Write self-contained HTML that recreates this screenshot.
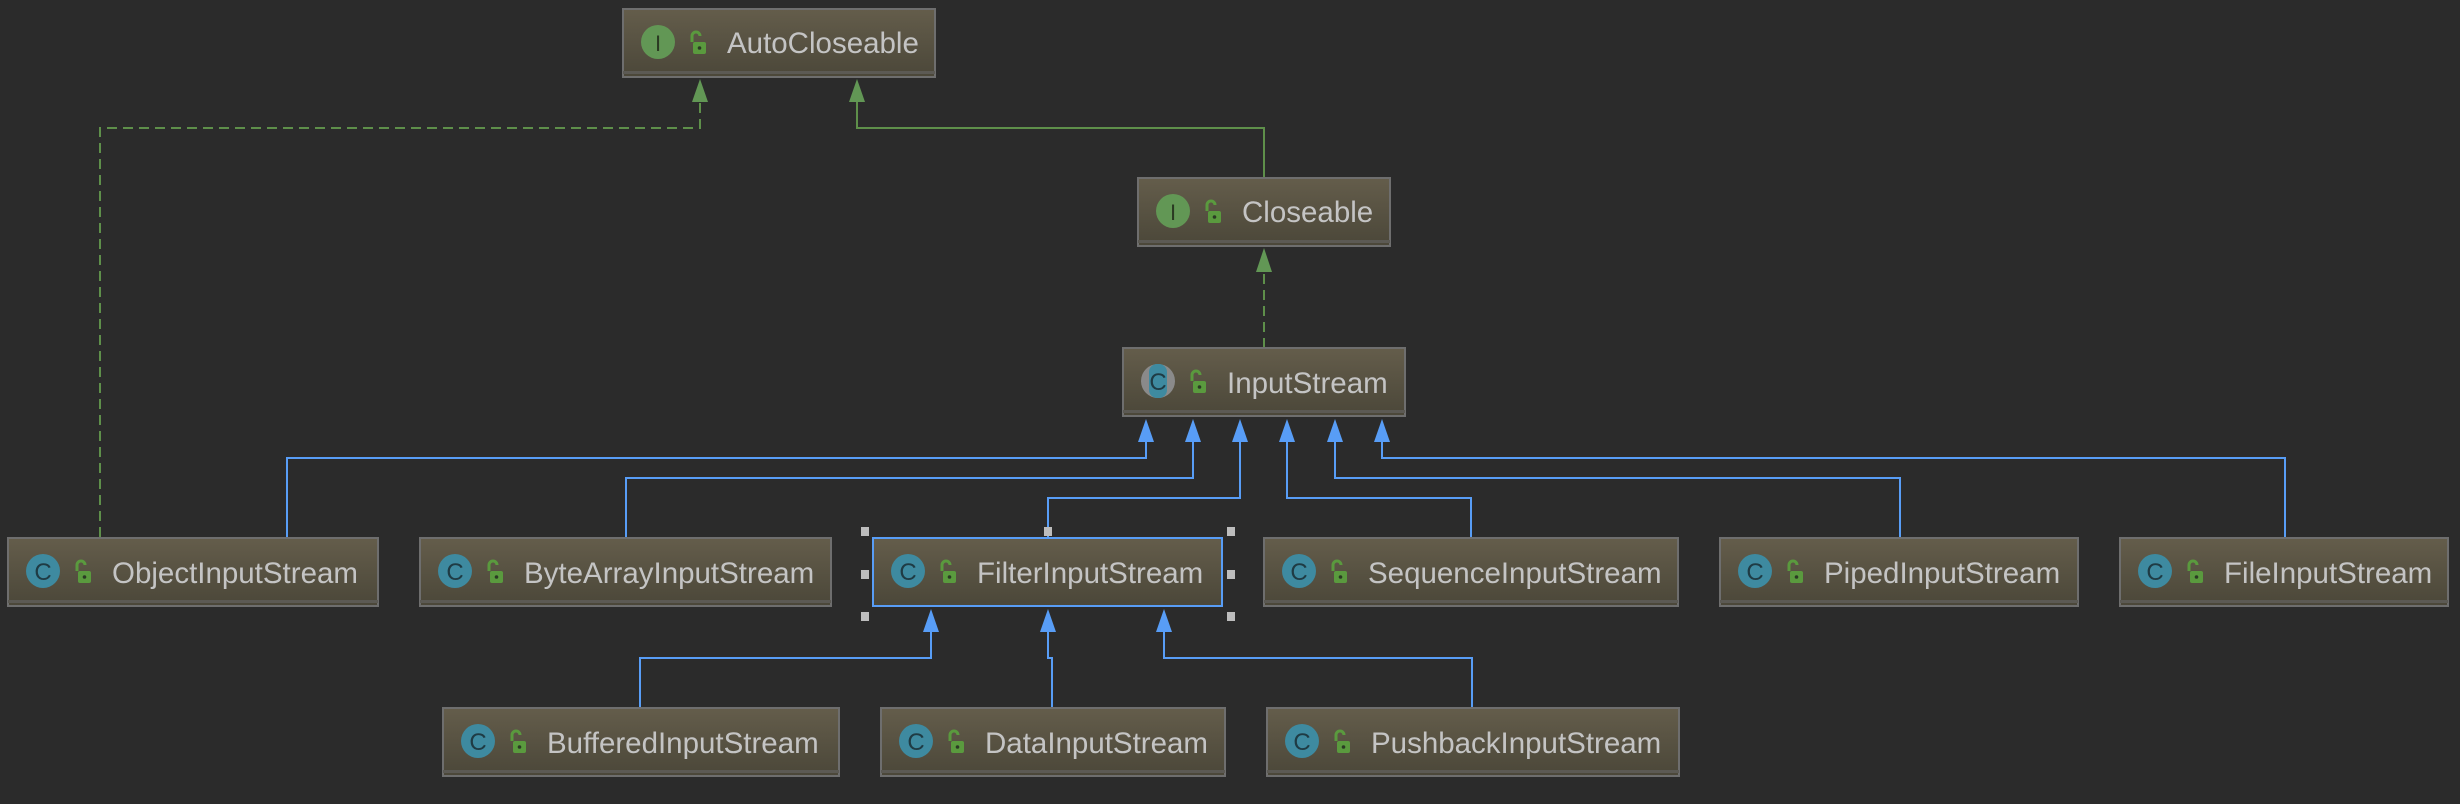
<!DOCTYPE html>
<html><head><meta charset="utf-8"><style>
html,body{margin:0;padding:0;background:#2b2b2b;width:2460px;height:804px;overflow:hidden}
svg{display:block}
text{font-family:"Liberation Sans",sans-serif}
</style></head><body>
<svg width="2460" height="804" viewBox="0 0 2460 804" xmlns="http://www.w3.org/2000/svg">
<defs>
<linearGradient id="g" x1="0" y1="0" x2="0" y2="1">
<stop offset="0" stop-color="#645d4b"/><stop offset="1" stop-color="#4b4739"/>
</linearGradient>
<g id="lock"><path d="M3 11 V5 a4 4 0 0 1 8 0" fill="none" stroke="#5a9a3e" stroke-width="3"/><rect x="4" y="11" width="13" height="12" rx="2" fill="#5a9a3e"/><circle cx="10.5" cy="17" r="1.8" fill="#2b3a24"/></g>
</defs>
<rect width="2460" height="804" fill="#2b2b2b"/>

<g stroke="#5e8f4a" stroke-width="2" fill="none">
<path d="M100 537 V128 H700 V102" stroke-dasharray="10 6"/>
<path d="M1264 178 V128 H857 V102"/>
<path d="M1264 348 V272" stroke-dasharray="10 6"/>
</g>
<g fill="#629755">
<path d="M700 79 L692 102 L708 102 Z"/>
<path d="M857 79 L849 102 L865 102 Z"/>
<path d="M1264 248 L1256 272 L1272 272 Z"/>
</g>

<g stroke="#589df6" stroke-width="2" fill="none">
<path d="M287 537 V458 H1146 V440"/>
<path d="M626 537 V478 H1193 V440"/>
<path d="M1048 537 V498 H1240 V440"/>
<path d="M1471 537 V498 H1287 V440"/>
<path d="M1900 537 V478 H1335 V440"/>
<path d="M2285 537 V458 H1382 V440"/>
<path d="M640 708 V658 H931 V630"/>
<path d="M1052 708 V658 H1048 V630"/>
<path d="M1472 708 V658 H1164 V630"/>
</g>
<g fill="#589df6">
<path d="M1146 419 l-8 23 h16 Z"/><path d="M1193 419 l-8 23 h16 Z"/><path d="M1240 419 l-8 23 h16 Z"/>
<path d="M1287 419 l-8 23 h16 Z"/><path d="M1335 419 l-8 23 h16 Z"/><path d="M1382 419 l-8 23 h16 Z"/>
<path d="M931 609 l-8 23 h16 Z"/><path d="M1048 609 l-8 23 h16 Z"/><path d="M1164 609 l-8 23 h16 Z"/>
</g>

<g font-size="29.5" fill="#c4c4c4">
<g transform="translate(623,9)"><rect x="0" y="0" width="312" height="68" fill="url(#g)" stroke="#6e6e6e" stroke-width="2"/><rect x="0" y="62" width="312" height="3" fill="#5c5a54"/>
<circle cx="35" cy="33" r="17" fill="#629755"/><text x="35" y="42" font-size="22" font-family="Liberation Serif" text-anchor="middle" fill="#2a3a22">I</text>
<use href="#lock" x="66" y="22"/><text x="104" y="44">AutoCloseable</text></g>
<g transform="translate(1138,178)"><rect x="0" y="0" width="252" height="68" fill="url(#g)" stroke="#6e6e6e" stroke-width="2"/><rect x="0" y="62" width="252" height="3" fill="#5c5a54"/>
<circle cx="35" cy="33" r="17" fill="#629755"/><text x="35" y="42" font-size="22" font-family="Liberation Serif" text-anchor="middle" fill="#2a3a22">I</text>
<use href="#lock" x="66" y="22"/><text x="104" y="44">Closeable</text></g>
<g transform="translate(1123,348)"><rect x="0" y="0" width="282" height="68" fill="url(#g)" stroke="#6e6e6e" stroke-width="2"/><rect x="0" y="62" width="282" height="3" fill="#5c5a54"/>
<circle cx="35" cy="33" r="17" fill="#8a8a8a"/><rect x="26" y="16" width="18" height="34" rx="8" fill="#3e8aa0"/><text x="35" y="42" font-size="24" text-anchor="middle" fill="#1f3b44">C</text>
<use href="#lock" x="66" y="22"/><text x="104" y="45">InputStream</text></g>

<g transform="translate(8,538)"><rect x="0" y="0" width="370" height="68" fill="url(#g)" stroke="#6e6e6e" stroke-width="2"/><rect x="0" y="62" width="370" height="3" fill="#5c5a54"/>
<circle cx="35" cy="33" r="17" fill="#3e8aa0"/><text x="35" y="42" font-size="24" text-anchor="middle" fill="#1f3b44">C</text>
<use href="#lock" x="66" y="22"/><text x="104" y="45">ObjectInputStream</text></g>
<g transform="translate(420,538)"><rect x="0" y="0" width="411" height="68" fill="url(#g)" stroke="#6e6e6e" stroke-width="2"/><rect x="0" y="62" width="411" height="3" fill="#5c5a54"/>
<circle cx="35" cy="33" r="17" fill="#3e8aa0"/><text x="35" y="42" font-size="24" text-anchor="middle" fill="#1f3b44">C</text>
<use href="#lock" x="66" y="22"/><text x="104" y="45">ByteArrayInputStream</text></g>
<g transform="translate(873,538)"><rect x="0" y="0" width="349" height="68" fill="url(#g)" stroke="#589df6" stroke-width="2"/>
<circle cx="35" cy="33" r="17" fill="#3e8aa0"/><text x="35" y="42" font-size="24" text-anchor="middle" fill="#1f3b44">C</text>
<use href="#lock" x="66" y="22"/><text x="104" y="45">FilterInputStream</text></g>
<g fill="#bdbdbd"><rect x="861" y="527" width="8" height="9"/><rect x="1044" y="527" width="8" height="9"/><rect x="1227" y="527" width="8" height="9"/>
<rect x="861" y="570" width="8" height="9"/><rect x="1227" y="570" width="8" height="9"/>
<rect x="861" y="612" width="8" height="9"/><rect x="1227" y="612" width="8" height="9"/></g>
<g transform="translate(1264,538)"><rect x="0" y="0" width="414" height="68" fill="url(#g)" stroke="#6e6e6e" stroke-width="2"/><rect x="0" y="62" width="414" height="3" fill="#5c5a54"/>
<circle cx="35" cy="33" r="17" fill="#3e8aa0"/><text x="35" y="42" font-size="24" text-anchor="middle" fill="#1f3b44">C</text>
<use href="#lock" x="66" y="22"/><text x="104" y="45">SequenceInputStream</text></g>
<g transform="translate(1720,538)"><rect x="0" y="0" width="358" height="68" fill="url(#g)" stroke="#6e6e6e" stroke-width="2"/><rect x="0" y="62" width="358" height="3" fill="#5c5a54"/>
<circle cx="35" cy="33" r="17" fill="#3e8aa0"/><text x="35" y="42" font-size="24" text-anchor="middle" fill="#1f3b44">C</text>
<use href="#lock" x="66" y="22"/><text x="104" y="45">PipedInputStream</text></g>
<g transform="translate(2120,538)"><rect x="0" y="0" width="328" height="68" fill="url(#g)" stroke="#6e6e6e" stroke-width="2"/><rect x="0" y="62" width="328" height="3" fill="#5c5a54"/>
<circle cx="35" cy="33" r="17" fill="#3e8aa0"/><text x="35" y="42" font-size="24" text-anchor="middle" fill="#1f3b44">C</text>
<use href="#lock" x="66" y="22"/><text x="104" y="45">FileInputStream</text></g>

<g transform="translate(443,708)"><rect x="0" y="0" width="396" height="68" fill="url(#g)" stroke="#6e6e6e" stroke-width="2"/><rect x="0" y="62" width="396" height="3" fill="#5c5a54"/>
<circle cx="35" cy="33" r="17" fill="#3e8aa0"/><text x="35" y="42" font-size="24" text-anchor="middle" fill="#1f3b44">C</text>
<use href="#lock" x="66" y="22"/><text x="104" y="45">BufferedInputStream</text></g>
<g transform="translate(881,708)"><rect x="0" y="0" width="344" height="68" fill="url(#g)" stroke="#6e6e6e" stroke-width="2"/><rect x="0" y="62" width="344" height="3" fill="#5c5a54"/>
<circle cx="35" cy="33" r="17" fill="#3e8aa0"/><text x="35" y="42" font-size="24" text-anchor="middle" fill="#1f3b44">C</text>
<use href="#lock" x="66" y="22"/><text x="104" y="45">DataInputStream</text></g>
<g transform="translate(1267,708)"><rect x="0" y="0" width="412" height="68" fill="url(#g)" stroke="#6e6e6e" stroke-width="2"/><rect x="0" y="62" width="412" height="3" fill="#5c5a54"/>
<circle cx="35" cy="33" r="17" fill="#3e8aa0"/><text x="35" y="42" font-size="24" text-anchor="middle" fill="#1f3b44">C</text>
<use href="#lock" x="66" y="22"/><text x="104" y="45">PushbackInputStream</text></g>
</g>
</svg>
</body></html>
